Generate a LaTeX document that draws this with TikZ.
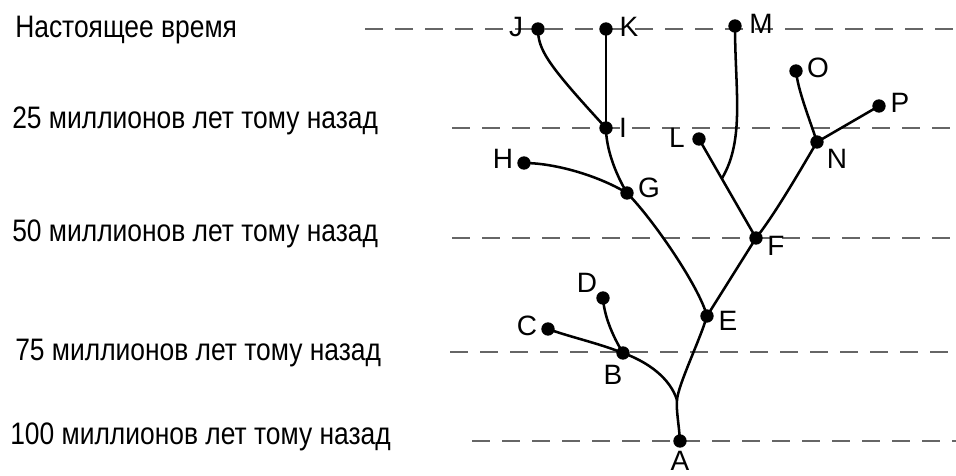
\documentclass[tikz,border=0pt]{standalone}
\usepackage{fontspec}
\usetikzlibrary{calc}
\setmainfont{Liberation Sans}
\newfontfamily\narrowfont{Liberation Sans}[FakeStretch=0.85]
\begin{document}
\begin{tikzpicture}[x=0.75pt,y=-0.75pt,
  dot/.style={circle,fill=black,inner sep=0pt,minimum size=10pt},
  lab/.style={inner sep=0pt,font=\fontsize{21pt}{24pt}\selectfont},
  era/.style={inner sep=0pt,anchor=base west,font=\narrowfont\fontsize{23.3pt}{26pt}\selectfont},
  grid/.style={draw=black!60,line width=1.3pt,dash pattern=on 13.5pt off 9pt},
  branch/.style={draw=black,line width=1.9pt}]
\useasboundingbox (0,0) rectangle (956,475);
% era labels
\node[era] (t0) at (15,37) {Настоящее время};
\node[era] (t25) at (12,128) {25 миллионов лет тому назад};
\node[era] (t50) at (12,241) {50 миллионов лет тому назад};
\node[era] (t75) at (15,360) {75 миллионов лет тому назад};
\node[era] (t100) at (10,444) {100 миллионов лет тому назад};
% dashed time lines
\coordinate (g0a) at (365,29);  \coordinate (g0b) at (956,29);
\coordinate (g1a) at (452,128); \coordinate (g1b) at (956,128);
\coordinate (g2a) at (452,238); \coordinate (g2b) at (956,238);
\coordinate (g3a) at (450,352); \coordinate (g3b) at (956,352);
\coordinate (g4a) at (472,441); \coordinate (g4b) at (956,441);
\foreach \i in {0,...,4} \draw[grid] (g\i a) -- (g\i b);
% dots
\node[dot] (A) at (680,441) {};
\node[dot] (B) at (623,353) {};
\node[dot] (C) at (548,329) {};
\node[dot] (D) at (603,298) {};
\node[dot] (E) at (707,316) {};
\node[dot] (F) at (756,238) {};
\node[dot] (G) at (627,193) {};
\node[dot] (H) at (524,163) {};
\node[dot] (I) at (606,128) {};
\node[dot] (J) at (538,29) {};
\node[dot] (K) at (606,29) {};
\node[dot] (L) at (699,139) {};
\node[dot] (M) at (735,26) {};
\node[dot] (N) at (817,142) {};
\node[dot] (O) at (796,71) {};
\node[dot] (P) at (879,106) {};
% letter labels
\node[lab] (lA) at (680,461) {A};
\node[lab] (lB) at (613,375) {B};
\node[lab] (lC) at (527,326) {C};
\node[lab] (lD) at (587,283) {D};
\node[lab] (lE) at (728,321) {E};
\node[lab] (lF) at (776,246) {F};
\node[lab] (lG) at (649,188) {G};
\node[lab] (lH) at (503,159) {H};
\node[lab] (lI) at (623,128) {I};
\node[lab] (lJ) at (516,27) {J};
\node[lab] (lK) at (629,27) {K};
\node[lab] (lL) at (677,138) {L};
\node[lab] (lM) at (761,24) {M};
\node[lab] (lN) at (837,159) {N};
\node[lab] (lO) at (818,68) {O};
\node[lab] (lP) at (900,103) {P};
% branch points
\coordinate (ab) at (677,400);
\coordinate (m0) at ($(F)!0.6!(L)$);
% branches
\draw[branch] (A.center) .. controls (679,425) and (676,410) .. (ab);
\draw[branch] (ab) .. controls (670,378) and (648,362) .. (B.center);
\draw[branch] (ab) .. controls (678,385) and (700,340) .. (E.center);
\draw[branch] (B.center) .. controls (598,343) and (570,337) .. (C.center);
\draw[branch] (B.center) .. controls (612,335) and (604,315) .. (D.center);
\draw[branch] (E.center) .. controls (699,286) and (652,218) .. (G.center);
\draw[branch] (E.center) -- (F.center);
\draw[branch] (G.center) .. controls (597,175) and (554,163) .. (H.center);
\draw[branch] (G.center) .. controls (615,173) and (606,148) .. (I.center);
\draw[branch] (I.center) .. controls (548,65) and (538,50) .. (J.center);
\draw[branch] (I.center) -- (K.center);
\draw[branch] (F.center) -- (L.center);
\draw[branch] (m0) .. controls (745,140) and (735,90) .. (M.center);
\draw[branch] (F.center) .. controls (776,213) and (805,162) .. (N.center);
\draw[branch] (N.center) .. controls (808,115) and (798,90) .. (O.center);
\draw[branch] (N.center) -- (P.center);
\end{tikzpicture}
\end{document}
